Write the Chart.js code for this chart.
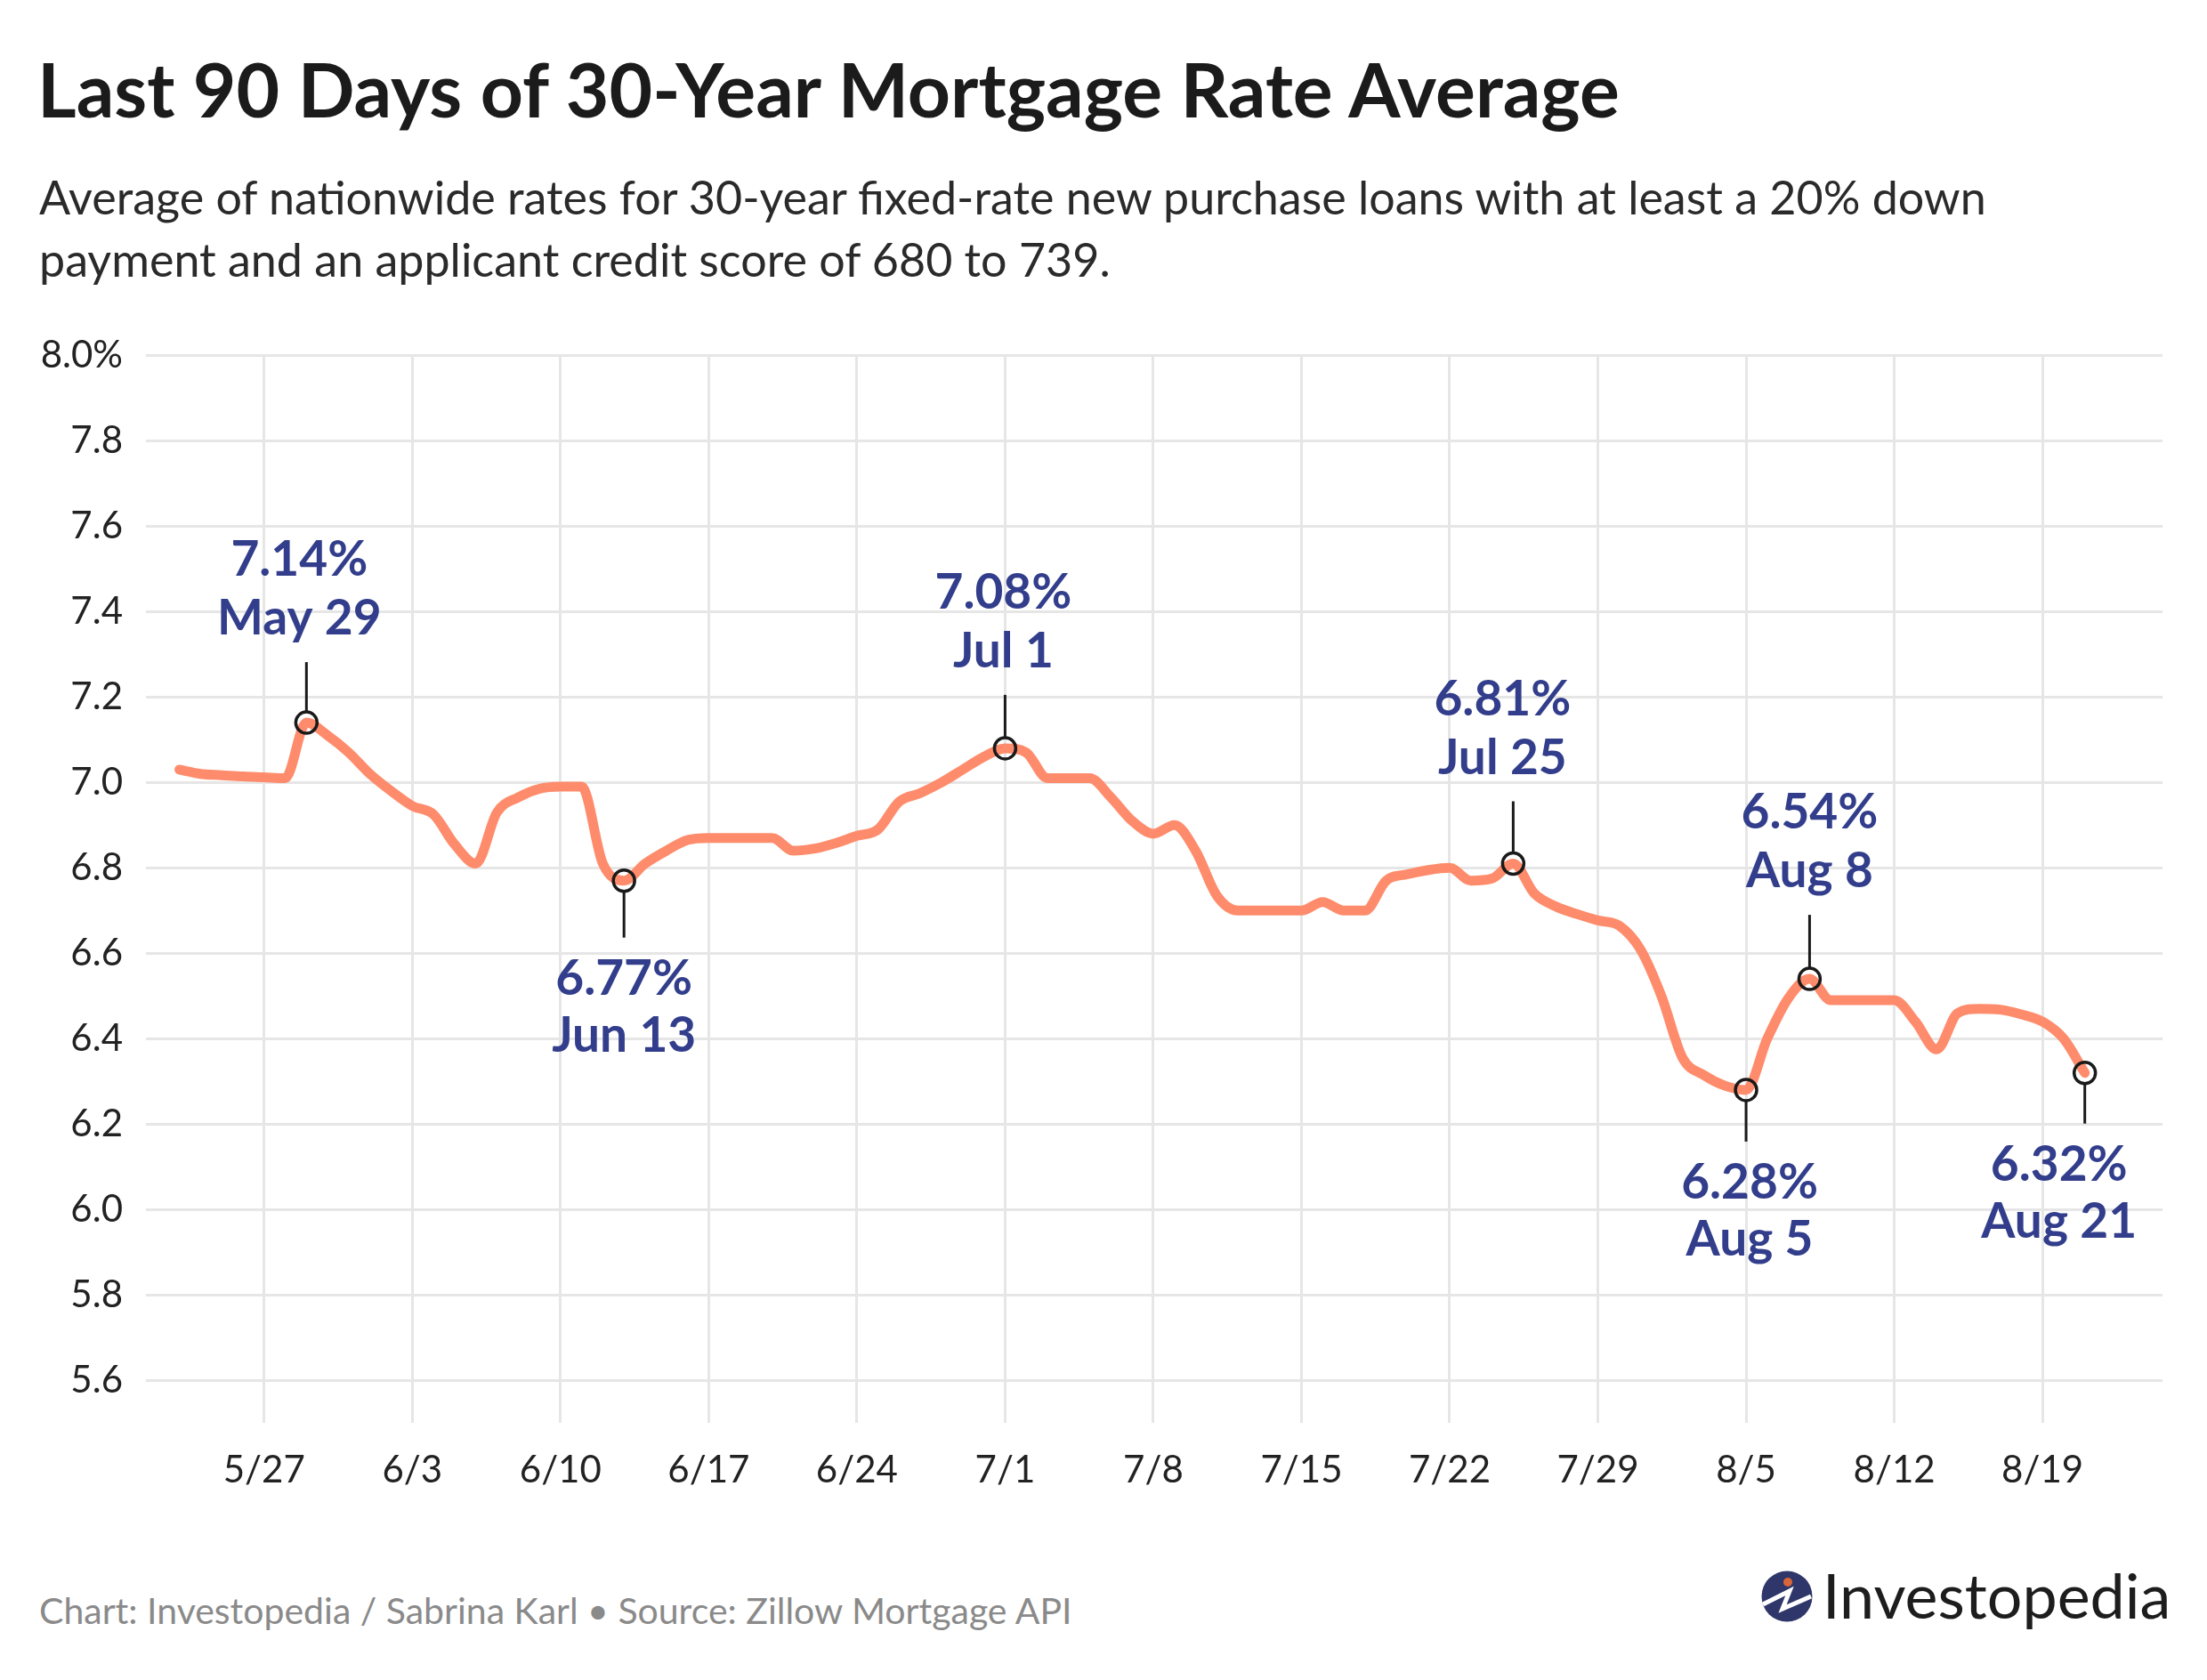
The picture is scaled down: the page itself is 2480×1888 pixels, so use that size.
<!DOCTYPE html>
<html>
<head>
<meta charset="utf-8">
<title>Last 90 Days of 30-Year Mortgage Rate Average</title>
<script src="https://cdn.jsdelivr.net/npm/chart.js@4.4.1/dist/chart.umd.min.js"></script>
<style>
  html, body { margin: 0; padding: 0; background: #fff; }
  body { width: 2480px; height: 1888px; position: relative; overflow: hidden; font-family: Lato, "Noto Sans", sans-serif; }
  #title { position: absolute; left: 42px; top: 58px; font-size: 84px; line-height: 84px; font-weight: 700; color: #1b1b1b; white-space: nowrap; }
  #subtitle { position: absolute; left: 44px; top: 186px; font-size: 52px; line-height: 70px; color: #2a2a2a; white-space: nowrap; }
  #chart-box { position: absolute; left: 0; top: 340px; width: 2480px; height: 1400px; }
  #footer { position: absolute; left: 44px; top: 1789px; font-size: 41px; line-height: 41px; color: #8a8a8a; white-space: nowrap; }
  #logo { position: absolute; left: 1978px; top: 1757px; height: 80px; display: flex; align-items: flex-start; }
  #logo svg { margin-top: 7px; }
  #logo span { font-size: 70px; line-height: 70px; color: #1d1d1d; margin-left: 10px; }
</style>
</head>
<body>
<div id="title">Last 90 Days of 30-Year Mortgage Rate Average</div>
<div id="subtitle">Average of nationwide rates for 30-year fixed-rate new purchase loans with at least a 20% down<br>payment and an applicant credit score of 680 to 739.</div>
<div id="chart-box"><canvas id="rateChart"></canvas></div>
<div id="footer">Chart: Investopedia / Sabrina Karl • Source: Zillow Mortgage API</div>
<div id="logo">
  <svg width="60" height="60" viewBox="0 0 60 60">
    <circle cx="30" cy="30" r="28.5" fill="#2f3669"/>
    <polyline points="3,39 33,24 25,44 57,30" fill="none" stroke="#fff" stroke-width="5" stroke-linejoin="miter"/>
    <circle cx="31" cy="14" r="5" fill="#d9653b"/>
  </svg>
  <span>Investopedia</span>
</div>

<script>
// daily series, first day is 5/23
const startDay = '5/23';
const rates = [
  7.03, 7.02, 7.017, 7.014, 7.012, 7.01, 7.14, 7.11, 7.07,          // 5/23 - 5/31
  7.02, 6.98, 6.945, 6.925, 6.855, 6.81, 6.93, 6.965, 6.985, 6.99,  // 6/1 - 6/10
  6.99, 6.81, 6.77, 6.81, 6.84, 6.865, 6.87, 6.87, 6.87, 6.87,      // 6/11 - 6/20
  6.84, 6.845, 6.858, 6.875, 6.89, 6.955, 6.975, 7.0, 7.03, 7.06,   // 6/21 - 6/30
  7.08, 7.07, 7.01, 7.01, 7.01, 6.965, 6.91, 6.88, 6.9, 6.84,       // 7/1 - 7/10
  6.735, 6.7, 6.7, 6.7, 6.7, 6.72, 6.7, 6.7, 6.77, 6.785,           // 7/11 - 7/20
  6.795, 6.8, 6.77, 6.775, 6.81, 6.74, 6.71, 6.692, 6.677, 6.665,   // 7/21 - 7/30
  6.61, 6.5, 6.355, 6.315, 6.29, 6.28, 6.4, 6.495, 6.54, 6.49,      // 7/31 - 8/9
  6.49, 6.49, 6.49, 6.44, 6.375, 6.46, 6.47, 6.468, 6.457, 6.44,    // 8/10 - 8/19
  6.4, 6.32                                                          // 8/20 - 8/21
];
const weekTicks = ['5/27', '6/3', '6/10', '6/17', '6/24', '7/1', '7/8', '7/15', '7/22', '7/29', '8/5', '8/12', '8/19'];
const yTicks = [5.6, 5.8, 6.0, 6.2, 6.4, 6.6, 6.8, 7.0, 7.2, 7.4, 7.6, 7.8, 8.0];

// highlighted points
const calloutDates = ['5/29', '6/13', '7/1', '7/25', '8/5', '8/8', '8/21'];
const calloutSides = ['above', 'below', 'above', 'above', 'below', 'above', 'below'];

// stem length and label nudge for each callout (px)
const calloutStem = [68, 64, 60, 70, 58, 72, 57];
const calloutNudge = [-8, 0, -2, -12, 4, 0, -29];

const monthNames = ['Jan', 'Feb', 'Mar', 'Apr', 'May', 'Jun', 'Jul', 'Aug', 'Sep', 'Oct', 'Nov', 'Dec'];

function toDate(md) {
    const [m, d] = md.split('/').map(Number);
    return Date.UTC(2024, m - 1, d);
}
function dayIndex(md) {
    return Math.round((toDate(md) - toDate(startDay)) / 864e5);
}
function longDate(md) {
    const [m, d] = md.split('/').map(Number);
    return monthNames[m - 1] + ' ' + d;
}

const linePoints = rates.map((v, i) => ({ x: i, y: v }));
const markerPoints = calloutDates.map(d => ({ x: dayIndex(d), y: rates[dayIndex(d)] }));

const ink = '#1a1a1a';
const navy = '#323e8b';
const gridColor = '#e6e6e6';

const calloutPlugin = {
    id: 'callouts',
    afterDatasetsDraw(chart) {
        const { ctx, scales: { x, y } } = chart;
        ctx.save();
        calloutDates.forEach((d, i) => {
            const idx = dayIndex(d);
            const val = rates[idx];
            const px = x.getPixelForValue(idx);
            const py = y.getPixelForValue(val);
            const stem = calloutStem[i];
            const tx = px + calloutNudge[i];

            ctx.strokeStyle = ink;
            ctx.lineWidth = 3;
            ctx.beginPath();
            if (calloutSides[i] === 'above') {
                ctx.moveTo(px, py - 13);
                ctx.lineTo(px, py - stem);
            } else {
                ctx.moveTo(px, py + 13);
                ctx.lineTo(px, py + stem);
            }
            ctx.stroke();

            ctx.fillStyle = navy;
            ctx.font = '700 55px Lato';
            ctx.textAlign = 'center';
            ctx.textBaseline = 'alphabetic';
            const valueText = val.toFixed(2) + '%';
            const dateText = longDate(d);
            if (calloutSides[i] === 'above') {
                const base = py - stem - 31;
                ctx.fillText(dateText, tx, base);
                ctx.fillText(valueText, tx, base - 66);
            } else {
                const base = py + stem + 64;
                ctx.fillText(valueText, tx, base);
                ctx.fillText(dateText, tx, base + 64);
            }
        });
        ctx.restore();
    }
};

Chart.defaults.font.family = 'Lato, "Noto Sans", sans-serif';

new Chart(document.getElementById('rateChart'), {
    type: 'line',
    data: {
        datasets: [
            {
                data: markerPoints,
                showLine: false,
                pointRadius: 12,
                pointBorderWidth: 3.5,
                pointBorderColor: ink,
                pointBackgroundColor: 'rgba(0,0,0,0)',
                order: 0
            },
            {
                data: linePoints,
                borderColor: '#fe8c6c',
                borderWidth: 11,
                borderCapStyle: 'round',
                borderJoinStyle: 'round',
                cubicInterpolationMode: 'monotone',
                pointRadius: 0,
                fill: false,
                order: 1
            }
        ]
    },
    options: {
        responsive: true,
        maintainAspectRatio: false,
        animation: false,
        layout: { padding: { top: 59.3, right: 50, left: 0, bottom: 0 } },
        plugins: { legend: { display: false }, tooltip: { enabled: false } },
        scales: {
            x: {
                type: 'linear',
                min: -1.58,
                max: 93.67,
                afterBuildTicks: s => { s.ticks = weekTicks.map(t => ({ value: dayIndex(t) })); },
                afterFit: s => { s.height = 140.7; },
                grid: { color: gridColor, lineWidth: 3, drawTicks: false },
                border: { display: false },
                ticks: {
                    callback: (v, i) => weekTicks[i],
                    autoSkip: false,
                    maxRotation: 0,
                    padding: 28,
                    color: '#222',
                    font: { size: 42 }
                }
            },
            y: {
                min: 5.5,
                max: 8.0,
                afterBuildTicks: s => { s.ticks = yTicks.map(v => ({ value: v })); },
                afterFit: s => { s.width = 164; },
                grid: { color: gridColor, lineWidth: 3, drawTicks: false },
                border: { display: false },
                ticks: {
                    callback: v => v === 8 ? '8.0%' : v.toFixed(1),
                    padding: 26,
                    color: '#222',
                    font: { size: 42 }
                }
            }
        }
    },
    plugins: [calloutPlugin]
});
</script>
</body>
</html>
